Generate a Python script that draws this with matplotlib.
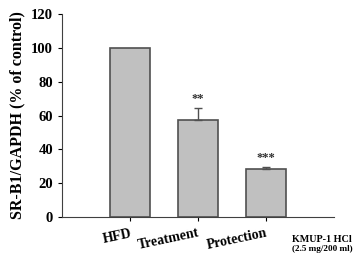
import matplotlib.pyplot as plt
import numpy as np

# data
groups = ['HFD', 'Treatment', 'Protection']
values = [100, 57.5, 28.5]
errors = [0, 7, 1]
stars = ['', '**', '***']

plt.rcParams['font.family'] = ['Liberation Serif', 'DejaVu Serif']

fig = plt.figure(figsize=(3.53, 2.56), dpi=100)
ax = fig.add_axes([0.1756, 0.1523, 0.7704, 0.7927])

x = np.arange(len(groups))
ax.bar(x, values, width=0.6, color='#c0c0c0', edgecolor='#505050', linewidth=1.2)
ax.errorbar(x[1:], values[1:], yerr=[[0, 0], errors[1:]], fmt='none',
            ecolor='#505050', elinewidth=1, capsize=3)

for i in range(1, len(groups)):
    ax.text(x[i], values[i] + errors[i] + 2, stars[i], ha='center', va='bottom',
            fontsize=9, fontweight='bold', color='#303030')

ax.set_xlim(-1, 3)
ax.set_ylim(0, 120)
ax.set_yticks([0, 20, 40, 60, 80, 100, 120])
ax.set_xticks(x)
ax.set_xticklabels(groups, rotation=12, fontsize=10, fontweight='bold',
                   ha='right', va='top', rotation_mode='anchor')
ax.tick_params(axis='y', labelsize=10.5, length=3, direction='out')
ax.tick_params(axis='x', length=3, direction='out', pad=4)
for lab in ax.get_yticklabels():
    lab.set_fontweight('bold')

ax.spines['top'].set_visible(False)
ax.spines['right'].set_visible(False)
for s in ['left', 'bottom']:
    ax.spines[s].set_color('#404040')

ax.set_ylabel('SR-B1/GAPDH (% of control)', fontsize=11.5, fontweight='bold')

fig.text(0.827, 0.066, 'KMUP-1 HCl', fontsize=7.3, fontweight='bold', ha='left', va='center')
fig.text(0.827, 0.027, '(2.5 mg/200 ml)', fontsize=6.6, fontweight='bold', ha='left', va='center')

fig.savefig('out.png', dpi=100)
